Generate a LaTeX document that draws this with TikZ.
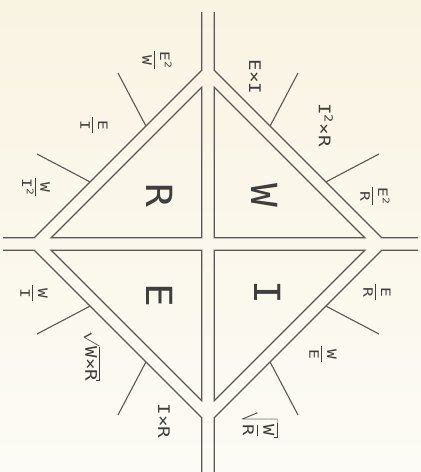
\RequirePackage{fix-cm}
\documentclass[tikz,border=0pt]{standalone}
\usepackage{fontspec}
\newfontfamily\mono{DejaVu Sans Mono}
\usetikzlibrary{calc}
\definecolor{paper}{RGB}{249,243,226}
\definecolor{paperb}{RGB}{252,251,245}
\definecolor{ink}{RGB}{88,88,86}
\definecolor{txt}{RGB}{62,62,60}
\newcommand{\fr}[2]{$\displaystyle\frac{\mbox{#1}}{\mbox{#2}}$}
\newcommand{\hroot}[1]{\setbox0\hbox{#1}\copy0\kern-0.8pt\rule[\dimexpr\ht0-4.2pt\relax]{0.8pt}{3.6pt}}
\begin{document}
\begin{tikzpicture}[x=1pt,y=-1pt,
  wire/.style={draw=ink,line width=1.3pt,line join=miter},
  tick/.style={draw=ink,line width=1.1pt},
  lbl/.style={text=txt,rotate=-90,xscale=1.2,inner sep=0pt,font=\fontsize{16}{18}\selectfont\mono},
  frl/.style={text=txt,rotate=-90,xscale=1.25,inner sep=0pt,font=\fontsize{13}{15}\selectfont\mono},
  big/.style={text=txt,rotate=-90,xscale=1.1,inner sep=0pt,font=\fontsize{36}{38}\selectfont\mono}]
\shade[top color=paper,bottom color=paperb] (0,0) rectangle (421,472);
\useasboundingbox (0,0) rectangle (421,472);
\coordinate (C) at (208,244);
% outer branch points
\coordinate (A1) at (201.75,70.25);  \coordinate (A2) at (34.25,237.75);
\coordinate (B1) at (214.25,70.25);  \coordinate (B2) at (381.75,237.75);
\coordinate (D1) at (201.75,417.75); \coordinate (D2) at (34.25,250.25);
\coordinate (E1) at (214.25,417.75); \coordinate (E2) at (381.75,250.25);
% free ends
\coordinate (At) at (201.75,12);  \coordinate (Al) at (3,237.75);
\coordinate (Bt) at (214.25,12);  \coordinate (Br) at (418,237.75);
\coordinate (Db) at (201.75,472); \coordinate (Dl) at (3,250.25);
\coordinate (Eb) at (214.25,472); \coordinate (Er) at (418,250.25);
\draw[wire] (At) -- (A1) -- (A2) -- (Al);
\draw[wire] (Bt) -- (B1) -- (B2) -- (Br);
\draw[wire] (Dl) -- (D2) -- (D1) -- (Db);
\draw[wire] (Er) -- (E2) -- (E1) -- (Eb);
% inner triangles
\draw[wire] (201.75,237.75) -- (201.75,87.25) -- (51.25,237.75) -- cycle;
\draw[wire] (214.25,237.75) -- (214.25,87.25) -- (364.75,237.75) -- cycle;
\draw[wire] (201.75,250.25) -- (201.75,400.75) -- (51.25,250.25) -- cycle;
\draw[wire] (214.25,250.25) -- (214.25,400.75) -- (364.75,250.25) -- cycle;
% radial ticks
\foreach \a/\b in {A1/A2,B1/B2,D1/D2,E1/E2}{
  \foreach \t in {0.3333,0.6667}{
    \coordinate (p) at ($(\a)!\t!(\b)$);
    \draw[tick] (p) -- ($(p)!-60pt!(C)$);
  }
}
% quadrant letters
\node[big] (qR) at (160,195) {R};
\node[big] (qW) at (265,195) {W};
\node[big] (qE) at (160,295) {E};
\node[big] (qI) at (268,292) {I};
% formulas
\node[frl] (f1) at (157,60) {\fr{E\textsuperscript{2}}{\,W\,}};
\node[frl] (f2) at (94,125) {\fr{\,E\,}{\,I\,}};
\node[frl] (f3) at (36,187) {\fr{\,W\,}{I\textsuperscript{2}}};
\node[lbl] (f4) at (255,77) {E×I};
\node[lbl] (f5) at (326,125) {I\textsuperscript{2}×R};
\node[frl] (f6) at (375,196) {\fr{E\textsuperscript{2}}{\,R\,}};
\node[frl] (f7) at (34,293) {\fr{\,W\,}{\,I\,}};
\node[lbl] (f8) at (92,356) {\hroot{$\sqrt{\mbox{W×R}}$}};
\node[lbl] (f9) at (164,421) {I×R};
\node[frl] (f10) at (377,292) {\fr{\,E\,}{\,R\,}};
\node[frl] (f11) at (323,354) {\fr{\,W\,}{\,E\,}};
\node[frl,font=\fontsize{15}{17}\selectfont\mono] (f12) at (260,424) {\hroot{$\displaystyle\sqrt{\frac{\mbox{W}}{\mbox{R}}}$}};
\end{tikzpicture}
\end{document}
